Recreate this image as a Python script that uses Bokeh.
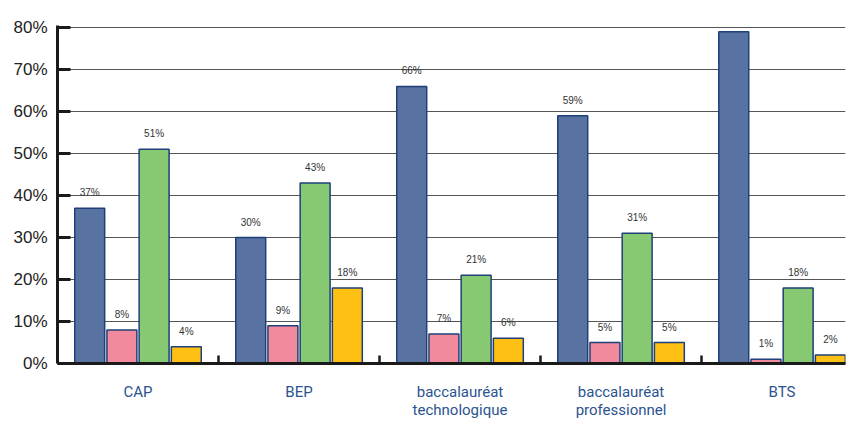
from bokeh.plotting import figure
from bokeh.models import ColumnDataSource, FixedTicker, LabelSet, Range1d, NumeralTickFormatter
from bokeh.core.properties import value
from bokeh.embed import file_html
from bokeh.resources import INLINE

categories = ["CAP", "BEP", "baccalauréat\ntechnologique", "baccalauréat\nprofessionnel", "BTS"]
series_blue = [37, 30, 66, 59, 79]
series_pink = [8, 9, 7, 5, 1]
series_green = [51, 43, 21, 31, 18]
series_yellow = [4, 18, 6, 5, 2]
y_ticks = [0, 10, 20, 30, 40, 50, 60, 70, 80]

series = [series_blue, series_pink, series_green, series_yellow]
colors = ["#5872A2", "#F28A9E", "#87C872", "#FDC013"]
offsets = [-0.3, -0.1, 0.1, 0.3]

p = figure(width=850, height=421, output_backend="svg", toolbar_location=None,
           x_range=Range1d(0, 4.894), y_range=Range1d(0, 80.5),
           min_border_left=57, min_border_right=5, min_border_top=25, min_border_bottom=56)
p.outline_line_color = None
p.background_fill_color = "white"
p.border_fill_color = "white"

for vals, col, off in zip(series, colors, offsets):
    xs = [i + 0.5 + off for i in range(len(categories))]
    src = ColumnDataSource(dict(x=xs, top=vals, lab=[f"{v}%" for v in vals]))
    p.vbar(x="x", top="top", bottom=0, width=0.186, source=src,
           fill_color=col, line_color="#1E3F78", line_width=1.5)
    p.add_layout(LabelSet(x="x", y="top", text="lab", source=src, y_offset=10,
                          text_align="center", text_baseline="bottom",
                          text_font=value("Liberation Sans"), text_font_size=value("10px"),
                          text_color="#333333"))

# y axis
p.yaxis.ticker = FixedTicker(ticks=y_ticks)
p.yaxis.formatter = NumeralTickFormatter(format="0")
p.yaxis.major_label_overrides = {t: f"{t}%" for t in y_ticks}
p.yaxis.axis_line_width = 3
p.yaxis.axis_line_color = "#1a1a1a"
p.yaxis.major_tick_in = 13
p.yaxis.major_tick_out = 0
p.yaxis.major_tick_line_width = 3
p.yaxis.major_tick_line_color = "#1a1a1a"
p.yaxis.minor_tick_line_color = None
p.yaxis.major_label_text_font = "Liberation Sans"
p.yaxis.major_label_text_font_size = "17px"
p.yaxis.major_label_text_color = "#222222"
p.yaxis.major_label_standoff = 10

# x axis: labels at category centres, ticks at boundaries
centers = [i + 0.5 for i in range(len(categories))]
p.xaxis.ticker = FixedTicker(ticks=centers, minor_ticks=[1, 2, 3, 4])
p.xaxis.major_label_overrides = {c: lab for c, lab in zip(centers, categories)}
p.xaxis.axis_line_width = 3
p.xaxis.axis_line_color = "#1a1a1a"
p.xaxis.major_tick_line_color = None
p.xaxis.major_tick_in = 0
p.xaxis.major_tick_out = 0
p.xaxis.minor_tick_in = 8
p.xaxis.minor_tick_out = 0
p.xaxis.minor_tick_line_width = 2.5
p.xaxis.minor_tick_line_color = "#1a1a1a"
p.xaxis.major_label_text_font = "Roboto"
p.xaxis.major_label_text_font_size = "15px"
p.xaxis.major_label_text_line_height = 1.0
p.xaxis.major_label_text_color = "#2A5490"
p.xaxis.major_label_standoff = 19

p.xgrid.grid_line_color = None
p.ygrid.ticker = FixedTicker(ticks=y_ticks[1:])
p.ygrid.grid_line_color = "#555555"
p.ygrid.grid_line_width = 1.2

open("out.html", "w").write(file_html(p, INLINE))
